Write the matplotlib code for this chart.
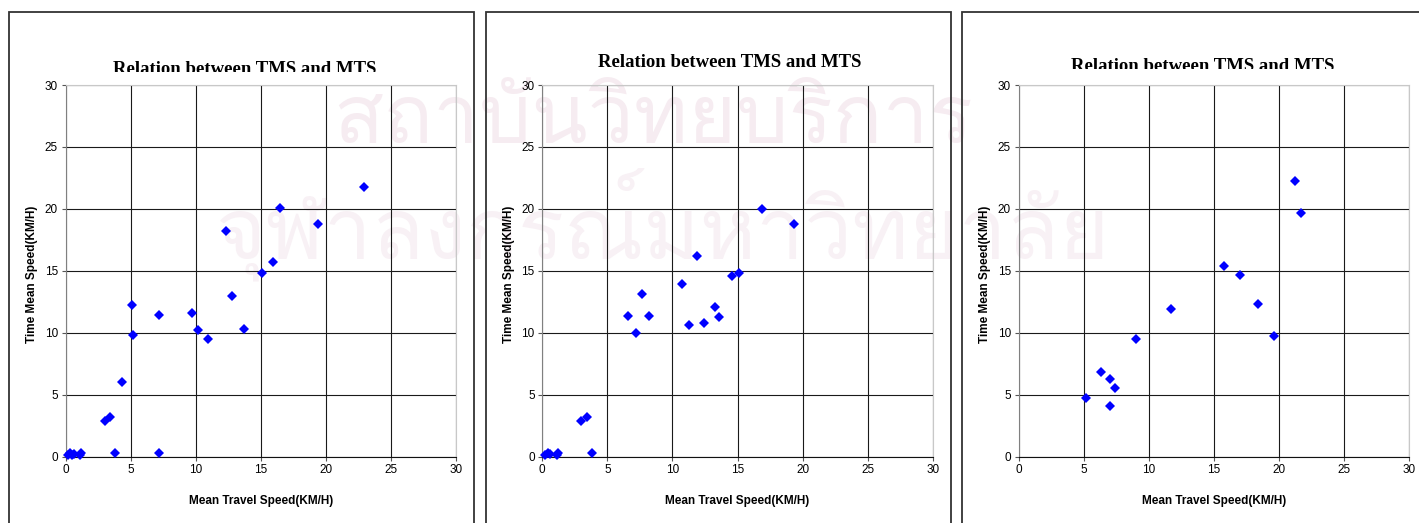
import matplotlib
matplotlib.use("Agg")
import matplotlib.pyplot as plt
from matplotlib import font_manager
from matplotlib.ft2font import FT2Font
from matplotlib.patches import Rectangle
from matplotlib.transforms import Bbox, TransformedBbox

# Data (Mean Travel Speed vs Time Mean Speed, km/h)
mts_1 = [0.2, 0.35, 0.5, 0.65, 1.1, 1.2, 3.0, 3.4, 3.8, 4.3, 5.1, 5.2, 7.15, 7.2,
         9.7, 10.2, 10.9, 12.35, 12.8, 13.7, 15.1, 15.9, 16.5, 19.35, 22.95]
tms_1 = [0.15, 0.3, 0.1, 0.2, 0.1, 0.3, 2.9, 3.2, 0.3, 6.0, 12.2, 9.8, 11.45, 0.3,
         11.6, 10.2, 9.5, 18.2, 13.0, 10.3, 14.8, 15.7, 20.1, 18.75, 21.8]

mts_2 = [0.2, 0.4, 0.6, 1.1, 1.2, 3.0, 3.4, 3.8, 6.6, 7.2, 7.65, 8.2,
         10.75, 11.25, 11.9, 12.45, 13.25, 13.55, 14.6, 15.1, 16.85, 19.35]
tms_2 = [0.15, 0.3, 0.2, 0.1, 0.3, 2.9, 3.2, 0.3, 11.35, 10.0, 13.1, 11.35,
         13.9, 10.6, 16.2, 10.8, 12.05, 11.25, 14.6, 14.8, 20.0, 18.75]

mts_3 = [5.2, 6.35, 7.05, 7.4, 7.05, 9.0, 11.7, 15.75, 17.0, 18.4, 19.6, 21.2, 21.65]
tms_3 = [4.7, 6.85, 6.25, 5.5, 4.1, 9.5, 11.95, 15.35, 14.65, 12.3, 9.7, 22.25, 19.7]

title = "Relation between TMS and MTS"
xlabel = "Mean Travel Speed(KM/H)"
ylabel = "Time Mean Speed(KM/H)"
ticks = [0, 5, 10, 15, 20, 25, 30]

watermark = ["สถาบันวิทยบริการ", "จุฬาลงกรณ์มหาวิทยาลัย"]

W, H = 1419, 523


def px(x, y):
    # pixel (from top-left) -> figure fraction
    return x / W, 1 - y / H


def findThaiFont():
    # look for any installed font that has Thai glyphs
    for f in font_manager.fontManager.ttflist:
        try:
            cmap = FT2Font(f.fname).get_charmap()
        except Exception:
            continue
        if 0x0E2A in cmap and 0x0E1A in cmap:
            return f.name
    return None


fig = plt.figure(figsize=(W / 100, H / 100), dpi=100)

# faint watermark behind everything (left edge, baseline, width in px)
thai = findThaiFont()
if thai:
    wm = [(333, 143, 640, "#f6ecf1"), (216, 258, 895, "#f8f1f5")]
    for txt, (x0, base, width, col) in zip(watermark, wm):
        t = fig.text(*px(x0, base), txt, family=[thai, "DejaVu Sans"], fontsize=80,
                     color=col, ha="left", va="baseline", zorder=-5)
        fig.canvas.draw()
        w = t.get_window_extent().width
        t.set_fontsize(80 * width / w)

# panel frames, left edge x, right edge x
frames = [(9, 474), (486, 951), (962, 1440)]
for x0, x1 in frames:
    fig.patches.append(Rectangle(px(x0, 535), (x1 - x0) / W, (535 - 12) / H,
                                 transform=fig.transFigure, fill=False,
                                 edgecolor="#333333", linewidth=1.3, zorder=1))

# axes left pixel, title centre, title baseline, clip line for the title
panels = [
    (mts_1, tms_1, 65.7, 245, 73.5, 71.7),
    (mts_2, tms_2, 542.3, 730, 66.7, None),
    (mts_3, tms_3, 1018.7, 1203, 71.0, 69.2),
]

for xs, ys, left, tx, tb, clip in panels:
    ax = fig.add_axes([left / W, (H - 456.5) / H, 390.5 / W, 371.5 / H])
    ax.set_facecolor("none")
    ax.set_xlim(0, 30)
    ax.set_ylim(0, 30)
    ax.set_xticks(ticks)
    ax.set_yticks(ticks)
    ax.grid(True, color="#1a1a1a", linewidth=0.8)
    ax.set_axisbelow(True)
    ax.tick_params(direction="out", length=3, width=0.8, color="#555555",
                   labelsize=8.5, pad=2.5)
    ax.spines["top"].set_color("#c8c8c8")
    ax.spines["right"].set_color("#c8c8c8")
    ax.spines["left"].set_color("#808080")
    ax.spines["bottom"].set_color("#111111")
    for s in ax.spines.values():
        s.set_linewidth(0.8)
    for lab in ax.get_xticklabels() + ax.get_yticklabels():
        lab.set_family("Liberation Sans")

    ax.plot(xs, ys, linestyle="none", marker="D", markersize=5,
            color="#0000ff", markeredgewidth=0, zorder=3, clip_on=False)

    ax.set_xlabel(xlabel, family="Liberation Sans", fontweight="bold",
                  fontsize=8.5, va="center")
    ax.xaxis.set_label_coords(0.5, -44.5 / 371.5)
    ax.set_ylabel(ylabel, family="Liberation Sans", fontweight="bold",
                  fontsize=8.5, va="center")
    ax.yaxis.set_label_coords(-33.5 / 390.5, 0.49)

    t = fig.text(*px(tx, tb), title, family="Liberation Serif", fontweight="bold",
                 fontsize=13.5, ha="center", va="baseline")
    if clip:
        t.set_clip_on(True)
        t.set_clip_box(TransformedBbox(Bbox([[0, 1 - clip / H], [1, 1]]),
                                       fig.transFigure))

fig.savefig("out.png", dpi=100)
